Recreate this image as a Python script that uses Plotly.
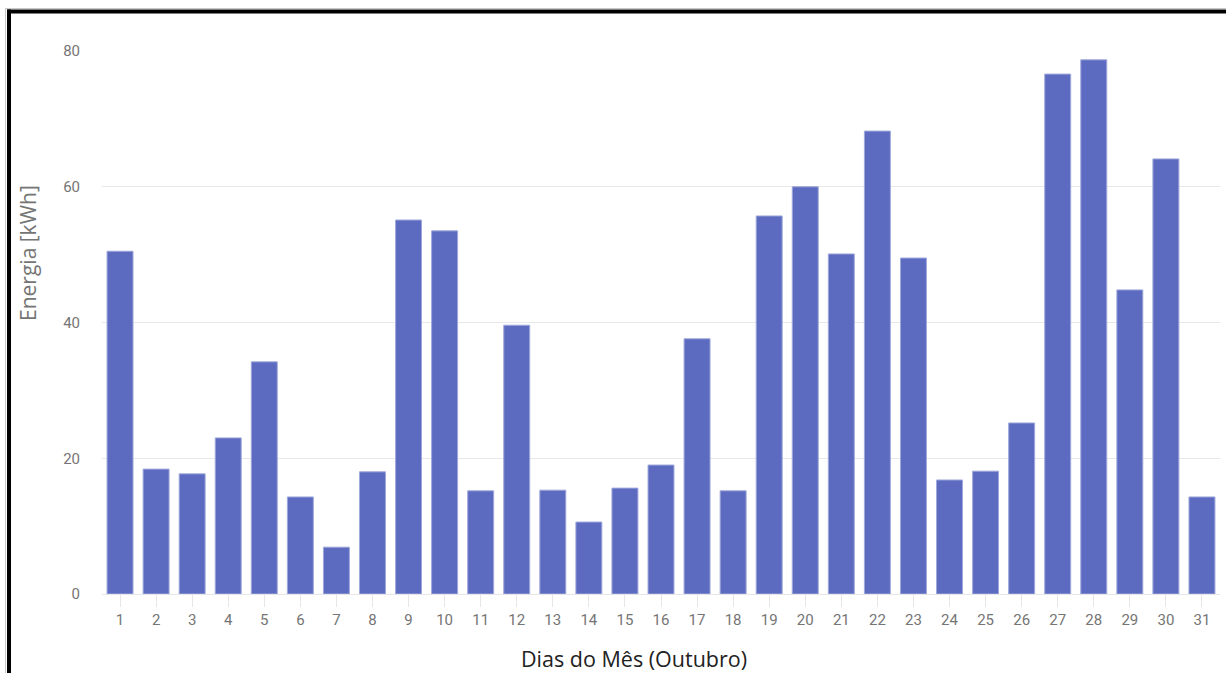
import plotly.graph_objects as go

days = [str(d) for d in range(1, 32)]
energy_kwh = [50.5, 18.4, 17.7, 23.0, 34.2, 14.3, 6.9, 18.0, 55.1, 53.5,
              15.2, 39.6, 15.3, 10.6, 15.6, 19.0, 37.6, 15.2, 55.7, 60.0,
              50.1, 68.2, 49.5, 16.8, 18.1, 25.2, 76.6, 78.7, 44.8, 64.1, 14.3]
y_ticks = [0, 20, 40, 60, 80]
x_title = "Dias do Mês (Outubro)"
y_title = "Energia [kWh]"

W, H = 1226, 673
L, R, T, B = 102, 6, 51, 79
pw, ph = W - L - R, H - T - B

def px(x):
    return (x - L) / pw

def py(y):
    return (H - B - y) / ph

fig = go.Figure()
fig.add_trace(go.Bar(
    x=days, y=energy_kwh,
    marker=dict(color="#5c6bc0", line=dict(color="#9fa8da", width=1)),
    width=0.72,
    hoverinfo="x+y",
))

shapes = [
    # light shadow lines
    dict(type="line", xref="paper", yref="paper", x0=px(5), x1=px(W), y0=py(8.5), y1=py(8.5),
         line=dict(color="#c8c8c8", width=1)),
    dict(type="line", xref="paper", yref="paper", x0=px(5.5), x1=px(5.5), y0=py(8), y1=py(H),
         line=dict(color="#c8c8c8", width=1)),
    # black frame
    dict(type="line", xref="paper", yref="paper", x0=px(7), x1=px(W), y0=py(11.5), y1=py(11.5),
         line=dict(color="#000000", width=4)),
    dict(type="line", xref="paper", yref="paper", x0=px(9), x1=px(9), y0=py(9.5), y1=py(H),
         line=dict(color="#000000", width=4)),
]

annotations = [
    dict(text=x_title, xref="paper", yref="paper", x=px(634), y=py(658),
         xanchor="center", yanchor="middle", showarrow=False,
         font=dict(size=21.5, color="#222222", family="Open Sans")),
    dict(text=y_title, xref="paper", yref="paper", x=px(28), y=py(253),
         xanchor="center", yanchor="middle", showarrow=False, textangle=-90,
         font=dict(size=21, color="#757575", family="Open Sans")),
]

fig.update_layout(
    width=W, height=H,
    margin=dict(l=L, r=R, t=T, b=B, autoexpand=False),
    paper_bgcolor="white", plot_bgcolor="white",
    showlegend=False,
    bargap=0.28,
    shapes=shapes,
    annotations=annotations,
    font=dict(family="Roboto, sans-serif", color="#757575"),
    xaxis=dict(
        type="category",
        showgrid=False,
        ticks="outside", ticklen=12, tickcolor="#e6e6e6", tickwidth=1,
        tickfont=dict(size=15, color="#757575", family="Roboto"),
        showline=True, linecolor="#e6e6e6", linewidth=1,
        automargin=False,
    ),
    yaxis=dict(
        range=[0, 80],
        tickvals=y_ticks,
        showgrid=True, gridcolor="#e8e8e8", gridwidth=1,
        zeroline=False,
        tickfont=dict(size=15, color="#757575", family="Roboto"),
        ticklabelstandoff=21,
        automargin=False,
    ),
)

fig.write_html(
    "out.html",
    config={"displayModeBar": False},
    post_script="document.body.style.margin='0';document.body.style.overflow='hidden';",
)
